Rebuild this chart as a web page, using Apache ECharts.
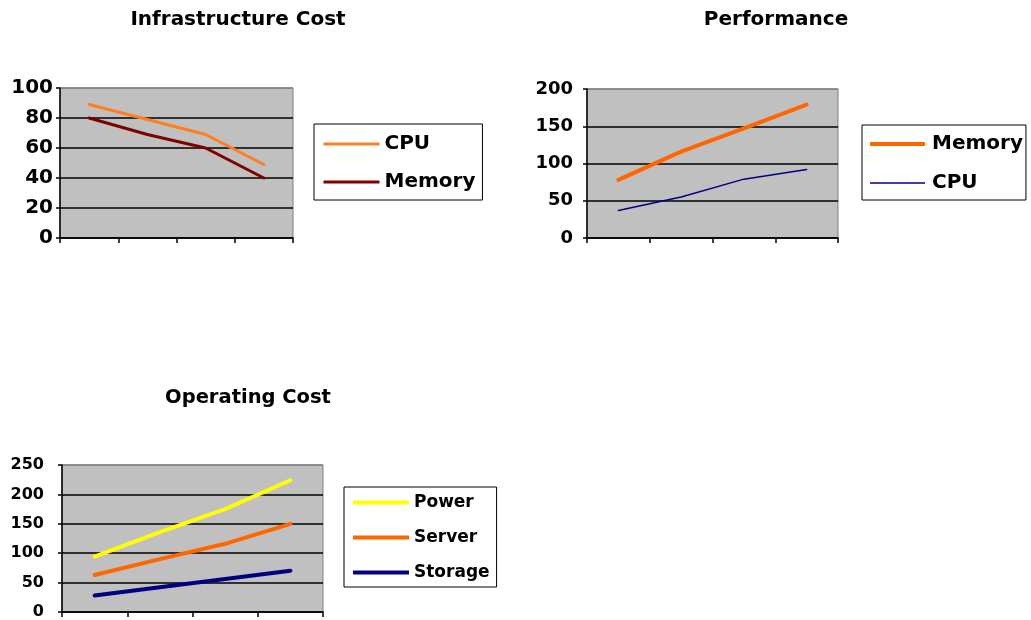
<!DOCTYPE html>
<html>
<head>
<meta charset="utf-8">
<title>Infrastructure Cost, Performance, Operating Cost</title>
<script src="https://cdn.jsdelivr.net/npm/echarts@6/dist/echarts.min.js"></script>
<style>
  html, body { margin: 0; padding: 0; background: #fff; }
  #chart { width: 1031px; height: 620px; }
</style>
</head>
<body>
<div id="chart"></div>
<script>
// Periods along the horizontal axis (not labelled on the axis)
const periods = ['1', '2', '3', '4'];

// Infrastructure Cost
const infraCpu = [89, 79, 69, 49];
const infraMemory = [80, 69, 60, 40];

// Performance
const perfMemory = [78, 116, 147, 179];
const perfCpu = [37, 55, 79, 92];

// Operating Cost
const opPower = [94, 136, 175, 224];
const opServer = [63, 90, 116, 150];
const opStorage = [28, 42, 56, 70];

const FONT = 'DejaVu Sans';
const PLOT_BG = '#c0c0c0';
const BORDER = '#808080';

function grid(left, top, width, height) {
  return {
    left, top, width, height,
    show: true,
    backgroundColor: PLOT_BG,
    borderColor: BORDER,
    borderWidth: 1,
    containLabel: false
  };
}

function catAxis(gridIndex) {
  return {
    type: 'category',
    gridIndex,
    data: periods,
    boundaryGap: true,
    axisLine: { lineStyle: { color: '#000', width: 1.5 } },
    axisTick: { show: true, alignWithLabel: false, length: 5, lineStyle: { color: '#000', width: 1.5 } },
    axisLabel: { show: false },
    splitLine: { show: false }
  };
}

function valAxis(gridIndex, max, interval, fontSize, margin) {
  const n = Math.round(max / interval);
  const colors = [];
  for (let i = 0; i < n; i++) colors.push('#000');
  colors.push(BORDER); // top edge keeps the plot border colour
  return {
    type: 'value',
    gridIndex,
    min: 0,
    max,
    interval,
    axisLine: { show: true, lineStyle: { color: '#000', width: 1.5 } },
    axisTick: { show: true, length: 4, lineStyle: { color: '#000', width: 1.5 } },
    axisLabel: {
      color: '#000',
      fontFamily: FONT,
      fontWeight: 'bold',
      fontSize,
      margin
    },
    splitLine: { show: true, lineStyle: { color: colors, width: 1.5 } }
  };
}

function title(text, x, top, fontSize) {
  return {
    text,
    left: x,
    top,
    textAlign: 'center',
    textStyle: { color: '#000', fontFamily: FONT, fontWeight: 'bold', fontSize }
  };
}

// Legend entries keep the series line but hide the point symbol
function legendItem(name, color, width) {
  return {
    name,
    itemStyle: { opacity: 0 },
    lineStyle: { color, width, opacity: 1, cap: 'butt' }
  };
}

function legend(items, left, top, opts) {
  return {
    data: items,
    orient: 'vertical',
    left,
    top,
    padding: opts.padding,
    itemGap: opts.itemGap,
    itemWidth: opts.itemWidth,
    itemHeight: 12,
    borderColor: '#000',
    borderWidth: 1,
    backgroundColor: '#fff',
    selectedMode: false,
    // series names in the second chart carry a trailing space to stay unique
    formatter: (name) => name.trim(),
    textStyle: {
      color: '#000',
      fontFamily: FONT,
      fontWeight: 'bold',
      fontSize: opts.fontSize,
      padding: [0, 0, 0, opts.textGap]
    }
  };
}

function line(name, data, axisIndex, color, width) {
  return {
    name,
    type: 'line',
    xAxisIndex: axisIndex,
    yAxisIndex: axisIndex,
    data,
    symbol: 'none',
    smooth: false,
    animation: false,
    lineStyle: { color, width, cap: 'round', join: 'round' },
    itemStyle: { color }
  };
}

const C_INFRA_CPU = '#ff7f1f';
const C_INFRA_MEM = '#800000';
const C_ORANGE = '#ff6600';
const C_NAVY = '#000080';
const C_YELLOW = '#ffff00';

const option = {
  animation: false,
  backgroundColor: '#fff',
  title: [
    title('Infrastructure Cost', 233, 5, 20),
    title('Performance', 771, 5, 20),
    title('Operating Cost', 243, 383, 19.5)
  ],
  legend: [
    legend([legendItem('CPU', C_INFRA_CPU, 3), legendItem('Memory', C_INFRA_MEM, 3)], 314, 124,
      { padding: [10, 7, 8, 8], itemGap: 18, itemWidth: 56, fontSize: 20, textGap: 0 }),
    legend([legendItem('Memory ', C_ORANGE, 4), legendItem('CPU ', C_NAVY, 1.5)], 862, 125,
      { padding: [9, 3, 7, 6], itemGap: 19, itemWidth: 55, fontSize: 20, textGap: 2 }),
    legend([legendItem('Power', C_YELLOW, 4), legendItem('Server', C_ORANGE, 4), legendItem('Storage', C_NAVY, 4)], 344, 487,
      { padding: [7, 7, 6, 7], itemGap: 18, itemWidth: 56, fontSize: 17, textGap: 0 })
  ],
  grid: [
    grid(60, 88, 233, 150),
    grid(587, 89, 251, 149),
    grid(62, 465, 261, 148)
  ],
  xAxis: [catAxis(0), catAxis(1), catAxis(2)],
  yAxis: [
    valAxis(0, 100, 20, 20, 7),
    valAxis(1, 200, 50, 18, 14),
    valAxis(2, 250, 50, 16, 18)
  ],
  series: [
    line('CPU', infraCpu, 0, C_INFRA_CPU, 3),
    line('Memory', infraMemory, 0, C_INFRA_MEM, 3),
    line('Memory ', perfMemory, 1, C_ORANGE, 4),
    line('CPU ', perfCpu, 1, C_NAVY, 1.5),
    line('Power', opPower, 2, C_YELLOW, 4),
    line('Server', opServer, 2, C_ORANGE, 4),
    line('Storage', opStorage, 2, C_NAVY, 4)
  ]
};

const chart = echarts.init(document.getElementById('chart'), null, { renderer: 'canvas' });
chart.setOption(option);
</script>
</body>
</html>
